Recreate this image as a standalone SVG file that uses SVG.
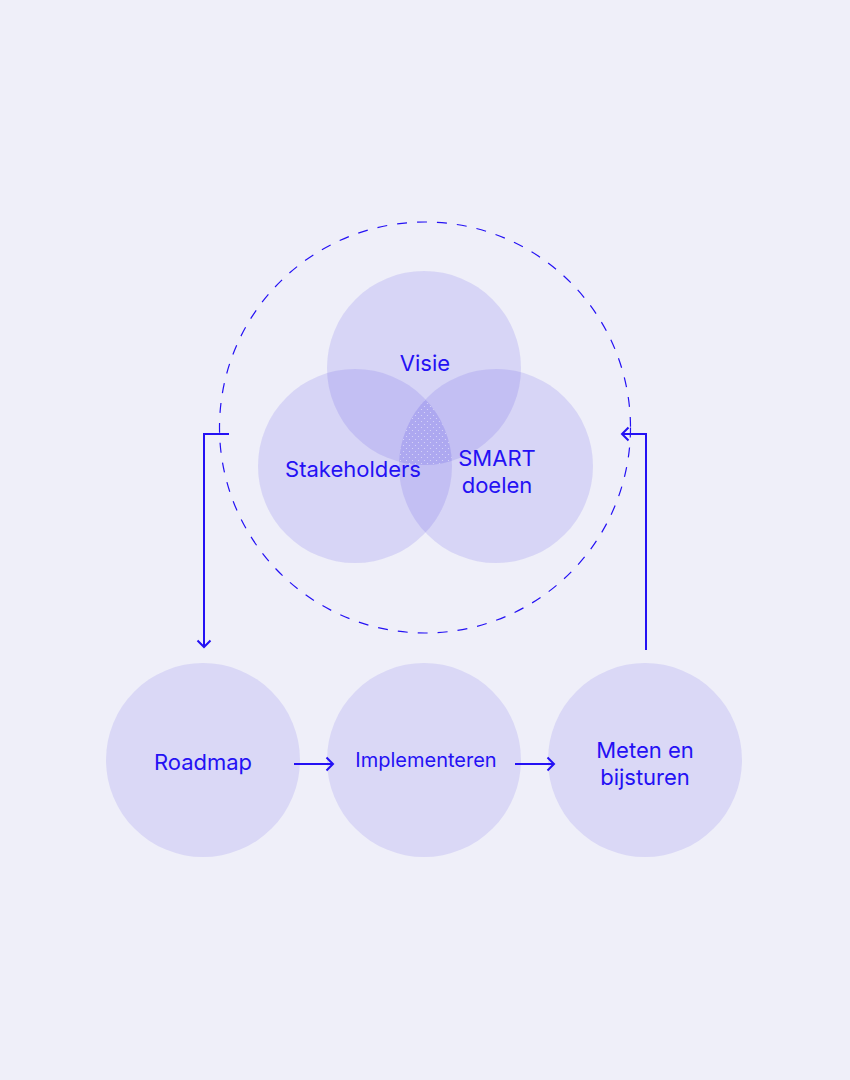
<svg xmlns="http://www.w3.org/2000/svg" width="850" height="1080" viewBox="0 0 850 1080">
<style>
.bg{fill:#EFEFF9}
.venn{fill:#5E50E6;fill-opacity:0.16}
.node{fill:#DAD8F6}
.lbl{font-family:Inter,"Noto Sans","Liberation Sans",sans-serif;font-size:22px;fill:#2411F4;text-anchor:middle}
.conn{fill:none;stroke:#2411F4;stroke-width:2}
.dash{fill:none;stroke:#2411F4;stroke-width:1.2;stroke-dasharray:10 10}
</style>
<defs>
<pattern id="dots" width="6" height="6" patternUnits="userSpaceOnUse">
<circle cx="1.5" cy="1.5" r="0.6" fill="#FFFFFF" fill-opacity="0.55"/>
<circle cx="4.5" cy="4.5" r="0.6" fill="#FFFFFF" fill-opacity="0.55"/>
</pattern>
<clipPath id="cA"><circle cx="424" cy="368" r="97"/></clipPath>
<clipPath id="cB"><circle cx="355" cy="466" r="97"/></clipPath>
<clipPath id="cC"><circle cx="496" cy="466" r="97"/></clipPath>
</defs>
<rect class="bg" x="0" y="0" width="850" height="1080"/>

<circle class="dash" cx="425" cy="427.5" r="205.5"/>

<g id="visie">
<circle class="venn" cx="424" cy="368" r="97"/>
<text class="lbl" x="425" y="371">Visie</text>
</g>
<g id="stakeholders">
<circle class="venn" cx="355" cy="466" r="97"/>
</g>
<g id="smart">
<circle class="venn" cx="496" cy="466" r="97"/>
</g>
<g id="kern">
<g clip-path="url(#cA)"><g clip-path="url(#cB)"><rect x="250" y="260" width="350" height="320" fill="#5E50E6" fill-opacity="0.05" clip-path="url(#cC)"/><rect x="250" y="260" width="350" height="320" fill="url(#dots)" clip-path="url(#cC)"/></g></g>
</g>
<text class="lbl" x="353" y="477">Stakeholders</text>
<text class="lbl" x="497" y="466">SMART</text>
<text class="lbl" x="497" y="493">doelen</text>

<g id="roadmap">
<circle class="node" cx="203" cy="760" r="97"/>
<text class="lbl" x="203" y="770">Roadmap</text>
</g>
<g id="implementeren">
<circle class="node" cx="424" cy="760" r="97"/>
<text class="lbl" x="426" y="767" style="font-size:20px">Implementeren</text>
</g>
<g id="meten">
<circle class="node" cx="645" cy="760" r="97"/>
<text class="lbl" x="645" y="758">Meten en</text>
<text class="lbl" x="645" y="785">bijsturen</text>
</g>

<g id="connectors">
<path class="conn" d="M229 434 H204 V647"/>
<path class="conn" d="M197.5 640.5 L204 647 L210.5 640.5"/>
<path class="conn" d="M646 650 V434 H622"/>
<path class="conn" d="M628.5 427.5 L622 434 L628.5 440.5"/>
<path class="conn" d="M294 764 H333"/>
<path class="conn" d="M326.5 757.5 L333 764 L326.5 770.5"/>
<path class="conn" d="M515 764 H554"/>
<path class="conn" d="M547.5 757.5 L554 764 L547.5 770.5"/>
</g>
</svg>
